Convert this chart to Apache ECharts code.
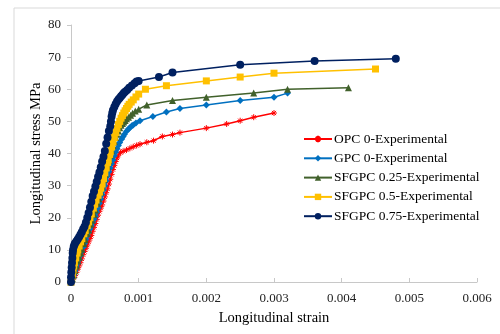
<!DOCTYPE html>
<html>
<head>
<meta charset="utf-8">
<script src="https://cdn.jsdelivr.net/npm/echarts@6/dist/echarts.min.js"></script>
<style>
  html, body { margin: 0; padding: 0; background: #fff; }
  #chart { width: 500px; height: 334px; }
</style>
</head>
<body>
<div id="chart"></div>
<script>
// strain / stress
const opcStrain = [0, 0.00002, 0.00004, 0.00006, 0.00008, 0.0001, 0.00012, 0.00014, 0.00016, 0.00018, 0.0002, 0.00022, 0.00024, 0.00026, 0.00028, 0.0003, 0.00032, 0.00034, 0.00036, 0.00038, 0.0004, 0.00042, 0.00044, 0.00046, 0.00048, 0.0005, 0.00052, 0.00054, 0.00056, 0.00058, 0.0006, 0.00062, 0.00064, 0.00066, 0.00068, 0.0007, 0.00073, 0.00077, 0.00082, 0.00087, 0.00092, 0.00097, 0.00102, 0.00112, 0.00122, 0.00135, 0.0015, 0.00161, 0.002, 0.0023, 0.0025, 0.0027, 0.003];
const opcStress = [0, 0.8, 1.4, 2, 3, 4, 5, 6, 7.2, 8.5, 9.5, 10.5, 11.5, 12.5, 13.5, 14.5, 15.8, 17, 18.2, 19.5, 20.8, 22, 23, 24, 25.2, 26.5, 27.8, 29, 30.5, 32, 33.5, 35, 36.3, 37.5, 38.6, 39.5, 40.3, 40.7, 41.1, 41.6, 42.1, 42.5, 42.9, 43.5, 44, 45.3, 45.9, 46.5, 47.9, 49.2, 50.2, 51.3, 52.6];

const gpcStrain = [0, 0.00002, 0.00004, 0.00006, 0.00008, 0.0001, 0.00012, 0.00014, 0.00016, 0.00018, 0.0002, 0.00022, 0.00024, 0.00026, 0.00028, 0.0003, 0.00032, 0.00034, 0.00036, 0.00038, 0.0004, 0.00042, 0.00044, 0.00046, 0.00048, 0.0005, 0.00052, 0.00054, 0.00056, 0.00058, 0.0006, 0.00062, 0.00064, 0.00066, 0.00068, 0.0007, 0.00072, 0.00075, 0.00077, 0.00079, 0.00082, 0.00085, 0.00087, 0.0009, 0.00092, 0.00096, 0.00102, 0.00121, 0.00141, 0.00161, 0.002, 0.0025, 0.003, 0.0032];
const gpcStress = [0, 1, 2.2, 3.5, 4.7, 5.8, 7, 8.3, 9.5, 10.8, 12, 13.2, 14.4, 15.5, 16.5, 17.5, 18.5, 19.5, 20.5, 21.8, 23, 24.5, 25.8, 27.2, 28.6, 30, 31.5, 33, 34.3, 35.5, 36.8, 38, 39.3, 40.5, 41.5, 42.5, 43.4, 44.5, 45.3, 46, 46.9, 47.6, 48, 48.6, 48.9, 49.5, 50.2, 51.5, 52.9, 54, 55.1, 56.5, 57.5, 58.8];

const sf25Strain = [0, 0.00002, 0.00004, 0.00006, 0.00008, 0.0001, 0.00012, 0.00014, 0.00016, 0.00019, 0.00021, 0.00024, 0.00026, 0.00029, 0.00031, 0.00034, 0.00036, 0.00039, 0.00041, 0.00044, 0.00046, 0.00049, 0.00051, 0.00054, 0.00056, 0.00058, 0.0006, 0.00062, 0.00064, 0.00066, 0.00068, 0.0007, 0.00072, 0.00074, 0.00076, 0.00078, 0.0008, 0.00082, 0.00085, 0.00088, 0.00091, 0.00095, 0.001, 0.00112, 0.0015, 0.002, 0.0027, 0.0032, 0.0041];
const sf25Stress = [0, 1, 2.2, 3.5, 5, 6.5, 7.7, 9, 10.2, 12, 13.2, 15, 16.2, 18, 19.2, 21, 22.4, 24.5, 25.9, 28, 29.6, 32, 33.6, 36, 37.8, 39.5, 41, 42.5, 43.8, 45, 46, 47, 48, 48.8, 49.3, 49.8, 50.3, 50.8, 51.3, 51.9, 52.5, 53.2, 53.8, 55.1, 56.5, 57.5, 58.8, 60, 60.5];

const sf50Strain = [0, 0.00001, 0.00002, 0.00003, 0.00004, 0.00005, 0.00007, 0.00009, 0.0001, 0.00012, 0.00014, 0.00016, 0.00019, 0.00021, 0.00024, 0.00026, 0.00028, 0.0003, 0.00033, 0.00035, 0.00037, 0.0004, 0.00042, 0.00044, 0.00046, 0.00048, 0.0005, 0.00052, 0.00054, 0.00055, 0.00057, 0.00058, 0.0006, 0.00062, 0.00064, 0.00066, 0.00068, 0.0007, 0.00072, 0.00074, 0.00076, 0.00078, 0.0008, 0.00082, 0.00084, 0.00086, 0.00089, 0.00092, 0.00096, 0.001, 0.0011, 0.00141, 0.002, 0.0025, 0.003, 0.0045];
const sf50Stress = [0, 1.2, 2.5, 3.7, 5, 6, 7.5, 9, 10, 11.2, 12.5, 13.5, 15, 16, 17.5, 18.7, 20, 21.2, 23, 24.2, 25.5, 27, 28, 29.2, 30.5, 32.2, 34, 35.5, 37.2, 38, 39.7, 40.5, 42, 43.5, 45, 46.5, 47.8, 49, 50, 51, 51.8, 52.6, 53.3, 54, 54.7, 55.3, 56, 56.7, 57.6, 58.5, 60, 61.1, 62.6, 63.8, 65, 66.3];

const sf75Strain = [0, 0, 0.000005, 0.00001, 0.000015, 0.00002, 0.000025, 0.00003, 0.00004, 0.00005, 0.00006, 0.00008, 0.0001, 0.00012, 0.00014, 0.00016, 0.00018, 0.0002, 0.00022, 0.00024, 0.00026, 0.00028, 0.0003, 0.00032, 0.00034, 0.00036, 0.00038, 0.0004, 0.00042, 0.00044, 0.00046, 0.00048, 0.0005, 0.00052, 0.00054, 0.00056, 0.00058, 0.00059, 0.0006, 0.00061, 0.00062, 0.00064, 0.00066, 0.00068, 0.0007, 0.00072, 0.00074, 0.00076, 0.00078, 0.0008, 0.00083, 0.00086, 0.0009, 0.00094, 0.00097, 0.001, 0.0013, 0.0015, 0.0025, 0.0036, 0.0048];
const sf75Stress = [0, 1.5, 3, 4.5, 6, 7.5, 9, 10, 11, 11.6, 12.1, 12.7, 13.3, 14, 14.8, 15.6, 16.5, 17.3, 18.5, 20, 21.5, 23.2, 25, 26.8, 28.2, 29.7, 31.2, 32.8, 34.2, 35.7, 37.5, 39, 40.8, 43, 45, 47, 48.5, 50, 51.5, 52.6, 53.5, 54.5, 55.4, 56.2, 56.8, 57.3, 57.8, 58.3, 58.8, 59.2, 59.8, 60.5, 61.2, 61.9, 62.4, 62.6, 63.8, 65.2, 67.6, 68.8, 69.5];

const seriesNames = ["OPC 0-Experimental", "GPC 0-Experimental", "SFGPC 0.25-Experimental", "SFGPC 0.5-Experimental", "SFGPC 0.75-Experimental"];
const yTicks = [0, 10, 20, 30, 40, 50, 60, 70, 80];

const zip = (xs, ys) => xs.map((x, i) => [x, ys[i]]);
const font = '"Liberation Serif", "Times New Roman", serif';
const star = 'path://M5,0L5,10M0,5L10,5M1.5,1.5L8.5,8.5M8.5,1.5L1.5,8.5';

const makeSeries = (name, data, color, symbol, size, extra) => ({
  name,
  type: 'line',
  data,
  symbol,
  symbolSize: size,
  showAllSymbol: true,
  lineStyle: { color, width: 1.5 },
  itemStyle: Object.assign({ color, opacity: 1 }, extra || {}),
  emphasis: { disabled: true },
  animation: false
});

const chart = echarts.init(document.getElementById('chart'));
chart.setOption({
  animation: false,
  graphic: [{
    type: 'rect',
    shape: { x: 14, y: 8, width: 520, height: 340 },
    style: { fill: 'none', stroke: '#d9d9d9', lineWidth: 1 },
    silent: true
  }],
  grid: { left: 71, right: 23, top: 25, bottom: 52, containLabel: false, outerBoundsMode: 'none' },
  legend: {
    orient: 'vertical',
    left: 298,
    top: 127,
    itemWidth: 28,
    itemHeight: 8,
    itemGap: 5.3,
    data: seriesNames,
    textStyle: { fontFamily: font, fontSize: 13.5, color: '#000', padding: [0, 0, 0, -3] }
  },
  xAxis: {
    type: 'value',
    min: 0,
    max: 0.006,
    interval: 0.001,
    name: 'Longitudinal strain',
    nameLocation: 'middle',
    nameGap: 29,
    nameMoveOverlap: false,
    nameTextStyle: { fontFamily: font, fontSize: 14.5, color: '#000' },
    axisLine: { lineStyle: { color: '#c8c8c8', width: 1 } },
    axisTick: { show: true, inside: true, length: 4, lineStyle: { color: '#c8c8c8' } },
    axisLabel: {
      fontFamily: font, fontSize: 13, color: '#222', margin: 10,
      formatter: v => v === 0 ? '0' : v.toFixed(3)
    },
    splitLine: { show: false }
  },
  yAxis: {
    type: 'value',
    min: yTicks[0],
    max: yTicks[yTicks.length - 1],
    interval: 10,
    name: 'Longitudinal stress MPa',
    nameLocation: 'middle',
    nameGap: 27,
    nameMoveOverlap: false,
    nameTextStyle: { fontFamily: font, fontSize: 14.5, color: '#000' },
    axisLine: { show: true, lineStyle: { color: '#c8c8c8', width: 1 } },
    axisTick: { show: true, length: 4, lineStyle: { color: '#c8c8c8' } },
    axisLabel: { fontFamily: font, fontSize: 13, color: '#222', margin: 10 },
    splitLine: { show: false }
  },
  series: [
    makeSeries(seriesNames[0], zip(opcStrain, opcStress), '#ff0000', star, 6, { borderColor: '#ff0000', borderWidth: 1 }),
    makeSeries(seriesNames[1], zip(gpcStrain, gpcStress), '#0070c0', 'diamond', 7),
    makeSeries(seriesNames[2], zip(sf25Strain, sf25Stress), '#41612b', 'triangle', 7),
    makeSeries(seriesNames[3], zip(sf50Strain, sf50Stress), '#ffc000', 'rect', 7),
    makeSeries(seriesNames[4], zip(sf75Strain, sf75Stress), '#002060', 'circle', 8)
  ]
});
</script>
</body>
</html>
